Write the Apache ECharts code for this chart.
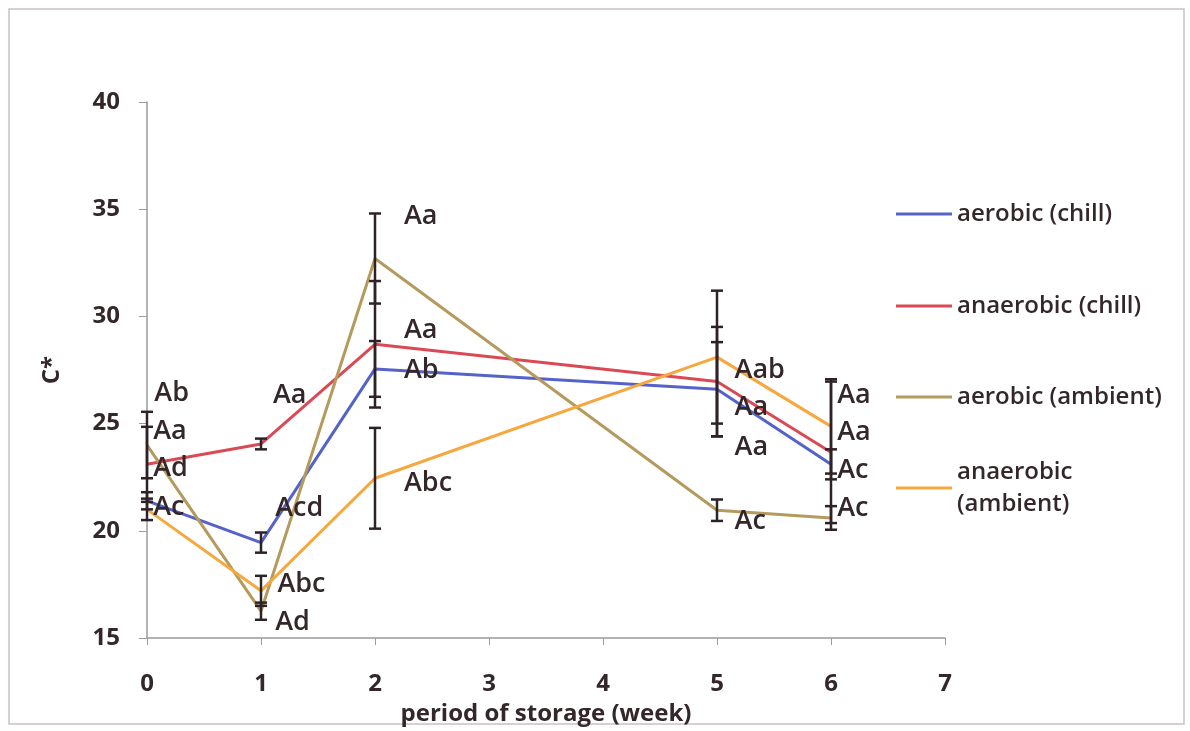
<!DOCTYPE html>
<html>
<head>
<meta charset="utf-8">
<script src="https://cdn.jsdelivr.net/npm/echarts@6/dist/echarts.min.js"></script>
<style>html,body{margin:0;padding:0;background:#fff;overflow:hidden}#c{width:1190px;height:731px}</style>
</head>
<body>
<div id="c"></div>
<script>
// ---- data ----
const weeks = [0, 1, 2, 5, 6];
const seriesNames = ['aerobic (chill)', 'anaerobic (chill)', 'aerobic (ambient)', 'anaerobic (ambient)'];
const aerobicChill = [21.4, 19.45, 27.55, 26.6, 23.1];
const aerobicChillErr = [0.4, 0.47, 1.3, 2.2, 0.7];
const anaerobicChill = [23.1, 24.05, 28.7, 26.96, 23.66];
const anaerobicChillErr = [1.75, 0.25, 2.95, 2.55, 3.3];
const aerobicAmbient = [24.0, 16.25, 32.7, 20.96, 20.6];
const aerobicAmbientErr = [1.55, 0.4, 2.1, 0.5, 0.55];
const anaerobicAmbient = [21.0, 17.2, 22.45, 28.1, 24.87];
const anaerobicAmbientErr = [0.5, 0.7, 2.35, 3.1, 2.2];
const colors = ['#5563c9', '#da4a55', '#b59a5e', '#f6a83e'];
// significance letters: [week, C*, text]
const annX = [0.06, 0.05, 0.05, 0.05, 1.1, 1.12, 1.14, 1.12, 2.25, 2.25, 2.25, 2.25, 5.15, 5.15, 5.15, 5.15, 6.05, 6.05, 6.05, 6.05];
const annY = [26.4, 24.64, 22.9, 21.1, 26.3, 21.05, 17.5, 15.75, 34.65, 29.34, 27.5, 22.2, 27.5, 25.75, 23.9, 20.45, 26.3, 24.6, 22.8, 21.05];
const annText = ['Ab', 'Aa', 'Ad', 'Ac', 'Aa', 'Acd', 'Abc', 'Ad', 'Aa', 'Aa', 'Ab', 'Abc', 'Aab', 'Aa', 'Aa', 'Ac', 'Aa', 'Aa', 'Ac', 'Ac'];
const yTicks = {min: 15, max: 40, interval: 5};
const xTicks = {min: 0, max: 7, interval: 1};

const values = [aerobicChill, anaerobicChill, aerobicAmbient, anaerobicAmbient];
const errs = [aerobicChillErr, anaerobicChillErr, aerobicAmbientErr, anaerobicAmbientErr];
const FONT = '"Open Sans", sans-serif';
const TXT = '#34272a';

const chart = echarts.init(document.getElementById('c'), null, {renderer: 'canvas', width: 1190, height: 731});

const series = [];
values.forEach((v, i) => {
  series.push({
    name: seriesNames[i], type: 'line', symbol: 'none',
    data: weeks.map((w, k) => [w, v[k]]),
    lineStyle: {color: colors[i], width: 3}, itemStyle: {color: colors[i]},
    z: 2, animation: false
  });
});
values.forEach((v, i) => {
  series.push({
    type: 'custom', z: 5, animation: false, silent: true,
    data: weeks.map((w, k) => [w, v[k] - errs[i][k], v[k] + errs[i][k]]),
    renderItem: function (params, api) {
      const lo = api.coord([api.value(0), api.value(1)]);
      const hi = api.coord([api.value(0), api.value(2)]);
      const hw = 6;
      const st = {stroke: '#2e2226', lineWidth: 2.5};
      return {type: 'group', children: [
        {type: 'line', shape: {x1: lo[0], y1: lo[1], x2: hi[0], y2: hi[1]}, style: st},
        {type: 'line', shape: {x1: lo[0] - hw, y1: lo[1], x2: lo[0] + hw, y2: lo[1]}, style: st},
        {type: 'line', shape: {x1: hi[0] - hw, y1: hi[1], x2: hi[0] + hw, y2: hi[1]}, style: st}
      ]};
    }
  });
});
series.push({
  type: 'scatter', symbolSize: 1, z: 6, animation: false, silent: true,
  itemStyle: {opacity: 0},
  data: annX.map((x, k) => ({value: [x, annY[k]], label: {formatter: annText[k]}})),
  label: {show: true, position: 'right', distance: 0, fontSize: 27, fontWeight: 600, fontFamily: FONT, color: TXT, opacity: 1}
});

function legendAt(i, top, extra) {
  return Object.assign({
    data: [seriesNames[i]], orient: 'vertical', left: 896, top: top, padding: 0,
    itemWidth: 56, itemHeight: 14, itemGap: 0, icon: 'path://M0,6L56,6L56,9L0,9Z',
    textStyle: {fontSize: 24, fontWeight: 600, fontFamily: FONT, color: TXT, lineHeight: 28, padding: [0, 0, 0, 0]},
    selectedMode: false
  }, extra || {});
}

chart.setOption({
  backgroundColor: '#fff',
  animation: false,
  color: colors,
  grid: {left: 147, right: 245, top: 102, bottom: 92, containLabel: false},
  xAxis: {
    type: 'value', min: xTicks.min, max: xTicks.max, interval: xTicks.interval,
    name: 'period of storage (week)', nameLocation: 'middle', nameGap: 64,
    nameTextStyle: {fontSize: 24, fontWeight: 'bold', fontFamily: FONT, color: TXT},
    axisLine: {show: true, lineStyle: {color: '#9a9aa0', width: 1.5}},
    axisTick: {show: true, inside: false, length: 7, lineStyle: {color: '#9a9aa0'}},
    axisLabel: {fontSize: 24, fontWeight: 'bold', fontFamily: FONT, color: TXT, margin: 34},
    splitLine: {show: false}
  },
  yAxis: {
    type: 'value', min: yTicks.min, max: yTicks.max, interval: yTicks.interval,
    name: 'C*', nameLocation: 'middle', nameGap: 83, nameRotate: 90,
    nameTextStyle: {fontSize: 24, fontWeight: 'bold', fontFamily: FONT, color: TXT},
    axisLine: {show: true, lineStyle: {color: '#9a9aa0', width: 1.5}},
    axisTick: {show: true, inside: false, length: 8, lineStyle: {color: '#9a9aa0'}},
    axisLabel: {fontSize: 24, fontWeight: 'bold', fontFamily: FONT, color: TXT, margin: 27},
    splitLine: {show: false}
  },
  legend: [
    legendAt(0, 200),
    legendAt(1, 292),
    legendAt(2, 383),
    legendAt(3, 440, {
      formatter: function () { return 'anaerobic\n(ambient)'; },
      textStyle: {fontSize: 24, fontWeight: 600, fontFamily: FONT, color: TXT, lineHeight: 32, padding: [32, 0, 0, 0]}
    })
  ],
  graphic: [{
    type: 'rect', shape: {x: 9, y: 9, width: 1175, height: 715},
    style: {fill: 'none', stroke: '#cbbfc6', lineWidth: 1.5}, silent: true, z: -10
  }],
  series: series
});
</script>
</body>
</html>
